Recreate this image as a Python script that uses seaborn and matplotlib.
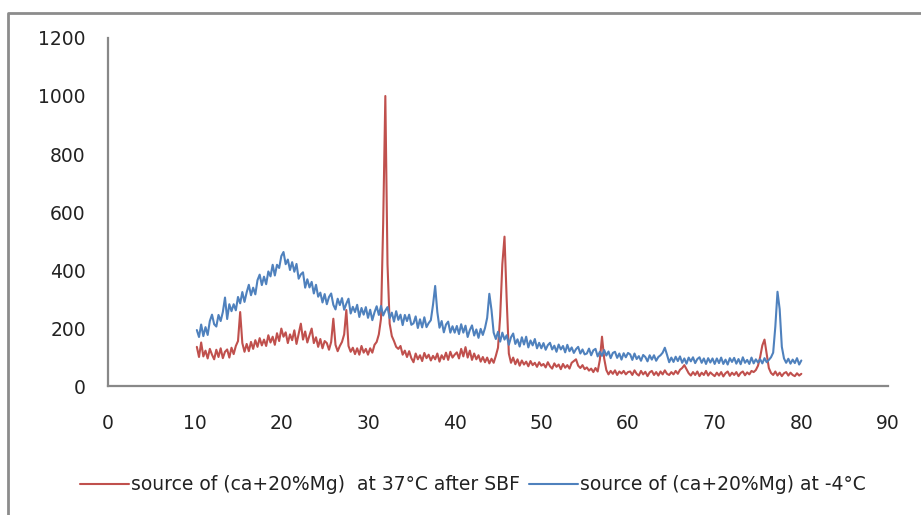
import numpy as np
import pandas as pd
import matplotlib
matplotlib.use("Agg")
import matplotlib.pyplot as plt
from matplotlib.lines import Line2D
import seaborn as sns

# 2-theta scan grid (0.25 deg step, 10.25 .. 80)
two_theta = np.arange(10.25, 80.001, 0.25)

label_sbf = "source of (ca+20%Mg)  at 37\u00b0C after SBF"
label_cold = "source of (ca+20%Mg) at -4\u00b0C"

# intensities, 20 points (5 deg) per row
sbf_counts = [
    135, 100, 150, 102, 122, 95, 128, 108, 92, 125, 100, 130, 96, 118, 126, 98, 132, 110, 138, 155,
    255, 148, 118, 145, 120, 152, 128, 158, 135, 165, 140, 160, 138, 175, 150, 170, 142, 182, 155, 198,
    170, 185, 148, 178, 158, 192, 145, 180, 215, 160, 188, 150, 175, 198, 148, 168, 135, 162, 130, 155,
    148, 125, 152, 232, 142, 120, 138, 152, 178, 262, 138, 118, 132, 110, 130, 108, 138, 115, 128, 108,
    130, 115, 142, 152, 178, 232, 560, 1000, 420, 215, 172, 155, 135, 128, 138, 108, 122, 100, 120, 96,
    82, 112, 92, 106, 86, 114, 96, 108, 88, 104, 92, 112, 84, 106, 92, 115, 90, 118, 98, 108,
    116, 95, 128, 102, 134, 98, 122, 90, 112, 92, 106, 84, 100, 82, 98, 78, 94, 80, 104, 132,
    240, 420, 515, 300, 112, 80, 98, 75, 92, 70, 88, 74, 84, 68, 86, 72, 80, 66, 82, 70,
    76, 64, 82, 68, 60, 78, 66, 74, 58, 76, 63, 72, 60, 80, 86, 92, 70, 62, 72, 58,
    64, 53, 60, 48, 62, 50, 90, 170, 95, 55, 40, 52, 42, 54, 38, 50, 43, 52, 40, 48,
    50, 38, 54, 42, 36, 52, 40, 49, 34, 47, 52, 38, 48, 36, 50, 40, 54, 42, 38, 48,
    40, 52, 42, 56, 62, 72, 58, 44, 36, 48, 38, 50, 34, 46, 38, 52, 36, 47, 40, 34,
    46, 36, 48, 33, 44, 50, 35, 46, 38, 48, 34, 45, 50, 37, 47, 40, 52, 48, 55, 70,
    100, 140, 160, 110, 62, 45, 38, 50, 36, 46, 34, 44, 48, 36, 46, 38, 34, 44, 36, 42,
]

cold_counts = [
    193, 169, 212, 172, 203, 176, 224, 246, 213, 205, 245, 224, 255, 305, 231, 282, 258, 282, 261, 307,
    285, 324, 290, 323, 349, 313, 339, 316, 365, 384, 348, 377, 351, 395, 378, 418, 381, 418, 407, 448,
    462, 420, 436, 400, 427, 394, 421, 370, 385, 392, 339, 368, 340, 359, 319, 349, 308, 322, 288, 317,
    282, 307, 319, 280, 264, 301, 279, 303, 263, 284, 301, 250, 273, 255, 280, 238, 269, 246, 272, 235,
    263, 227, 254, 275, 245, 276, 243, 260, 272, 234, 253, 222, 258, 228, 246, 210, 245, 224, 246, 211,
    216, 240, 200, 230, 202, 237, 203, 217, 227, 280, 345, 255, 201, 224, 185, 212, 222, 184, 206, 184,
    207, 179, 213, 184, 208, 169, 193, 209, 174, 195, 166, 197, 176, 200, 235, 318, 262, 184, 162, 187,
    153, 184, 160, 175, 142, 168, 181, 145, 161, 136, 168, 143, 170, 133, 157, 140, 162, 130, 149, 130,
    148, 125, 141, 149, 126, 139, 118, 143, 126, 138, 116, 142, 120, 133, 114, 127, 135, 112, 126, 109,
    112, 129, 106, 123, 128, 102, 118, 104, 124, 105, 119, 96, 114, 118, 97, 112, 91, 113, 99, 114,
    109, 90, 112, 93, 103, 87, 107, 100, 85, 106, 91, 106, 87, 100, 106, 115, 132, 108, 82, 98,
    83, 101, 86, 102, 80, 95, 77, 98, 85, 99, 79, 93, 99, 80, 95, 76, 96, 81, 95, 76,
    95, 79, 98, 76, 91, 74, 96, 83, 97, 77, 93, 75, 99, 80, 90, 76, 98, 78, 92, 81,
    92, 78, 96, 82, 90, 99, 115, 205, 325, 265, 135, 95, 80, 94, 77, 91, 79, 96, 74, 88,
]

x_ticks = [0, 10, 20, 30, 40, 50, 60, 70, 80, 90]
y_ticks = [0, 200, 400, 600, 800, 1000, 1200]

colors = {label_sbf: "#C0504D", label_cold: "#4F81BD"}

df = pd.concat([
    pd.DataFrame({"angle": two_theta, "counts": sbf_counts, "series": label_sbf}),
    pd.DataFrame({"angle": two_theta, "counts": cold_counts, "series": label_cold}),
])

# ---------------------------------------------------------------------
sns.set_style("white")
plt.rcParams["font.family"] = ["DejaVu Sans"]

fig = plt.figure(figsize=(9.21, 5.15), dpi=100)
ax = fig.add_axes([108 / 921, 1 - 386 / 515, 780 / 921, 348 / 515])

sns.lineplot(data=df, x="angle", y="counts", hue="series", palette=colors,
             estimator=None, sort=False, linewidth=1.5, legend=False, ax=ax)

ax.set_xlim(0, 90)
ax.set_ylim(0, 1200)
ax.set_xticks(x_ticks)
ax.set_yticks(y_ticks)
ax.set_xlabel("")
ax.set_ylabel("")
ax.tick_params(axis="both", length=0, labelsize=13.5, colors="#222222")
ax.tick_params(axis="x", pad=20)
ax.tick_params(axis="y", pad=16)
for side in ["top", "right"]:
    ax.spines[side].set_visible(False)
for side in ["left", "bottom"]:
    ax.spines[side].set_color("#888888")
    ax.spines[side].set_linewidth(1.6)

handles = [Line2D([], [], color=colors[label_sbf], lw=1.5),
           Line2D([], [], color=colors[label_cold], lw=1.5)]
fig.legend(handles, [label_sbf, label_cold], loc="center", ncol=2,
           bbox_to_anchor=(473 / 921, 1 - 485 / 515), frameon=False,
           fontsize=13.5, handlelength=2.6, handletextpad=0.1, columnspacing=0.5,
           labelcolor="#222222")

# outer chart frame (left and top edges are visible in the crop)
fig.add_artist(Line2D([8 / 921, 8 / 921, 1.0], [0.0, 1 - 13 / 515, 1 - 13 / 515],
                      transform=fig.transFigure, color="#8c8c8c", lw=2))

fig.savefig("out.png", dpi=100)
